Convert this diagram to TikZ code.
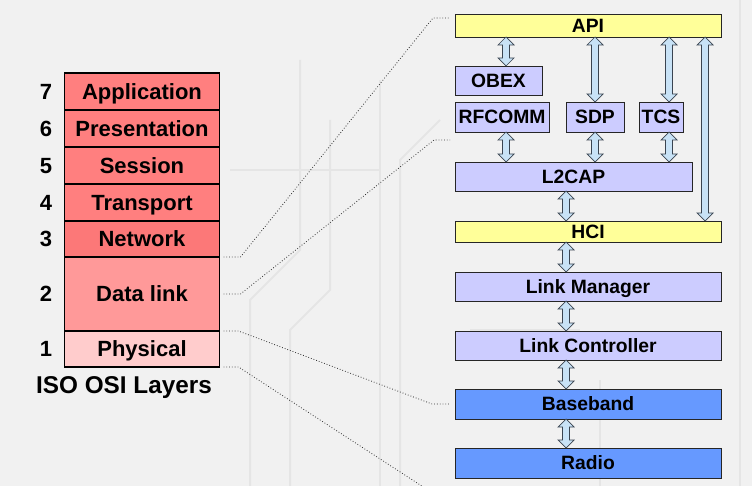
\documentclass[tikz,border=0pt]{standalone}
\usepackage{fontspec}
\setmainfont{Liberation Sans}
\usetikzlibrary{calc}
\definecolor{bg}{HTML}{F1F1F1}
\definecolor{bgline}{HTML}{E5E5E5}
\definecolor{osired}{HTML}{FF7F7F}
\definecolor{osinet}{HTML}{FC7878}
\definecolor{osidl}{HTML}{FF9999}
\definecolor{osiph}{HTML}{FFCCCC}
\definecolor{yel}{HTML}{FFFF99}
\definecolor{lav}{HTML}{CCCCFF}
\definecolor{blu}{HTML}{6699FF}
\definecolor{arrfill}{HTML}{C8E2F6}
\definecolor{arrline}{HTML}{3A4450}
\tikzset{
  osibox/.style={draw=black, line width=1.2pt, inner sep=0pt, outer sep=0pt,
    anchor=north west, minimum width=155pt, text height=15.5pt, text depth=0pt,
    font=\fontsize{22}{26}\selectfont\bfseries},
  osinum/.style={inner sep=0pt, text height=15.5pt, text depth=0pt,
    font=\fontsize{22}{26}\selectfont\bfseries},
  rbox/.style={draw=black!85, line width=0.8pt, inner sep=0pt, outer sep=0pt,
    anchor=north west, text height=13.8pt, text depth=0pt,
    font=\fontsize{19.3}{23}\selectfont\bfseries},
  dotline/.style={draw=black!80, line width=0.8pt, dotted},
  blockarrow/.style={fill=arrfill, draw=arrline, line width=0.7pt, line join=miter},
}
% double block arrow from bottom of #1 to top of #2 at x = #3
\newcommand{\dblarr}[3]{%
  \path[blockarrow] let \p1=(#1.south), \p2=(#2.north), \p3=(#3,0) in
    (\x3,\y1) -- (\x3+8pt,\y1-8pt) -- (\x3+3.5pt,\y1-8pt) -- (\x3+3.5pt,\y2+8pt)
    -- (\x3+8pt,\y2+8pt) -- (\x3,\y2) -- (\x3-8pt,\y2+8pt) -- (\x3-3.5pt,\y2+8pt)
    -- (\x3-3.5pt,\y1-8pt) -- (\x3-8pt,\y1-8pt) -- cycle;}
\begin{document}
\begin{tikzpicture}[x=1pt,y=-1pt]
\useasboundingbox (0,0) rectangle (752,486);
\fill[bg] (0,0) rectangle (752,486);
% faint background circuit texture
\begin{scope}[bgline, line width=2pt]
\draw (250,486) -- (250,300) -- (300,250) -- (300,60);
\draw (290,486) -- (290,330) -- (330,290) -- (330,120);
\draw (400,486) -- (400,160) -- (440,120);
\draw (470,330) -- (580,330);
\draw (600,486) -- (600,380);
\draw (740,0) -- (740,486);
\draw (230,170) -- (380,170);
\draw (380,80) -- (380,486);
\end{scope}
% OSI stack
\node[osibox, fill=osired, minimum height=37pt] (app)  at (64.5,73)  {Application};
\node[osibox, fill=osired, minimum height=37pt] (pres) at (64.5,110) {Presentation};
\node[osibox, fill=osired, minimum height=37pt] (sess) at (64.5,147) {Session};
\node[osibox, fill=osired, minimum height=37pt] (trans) at (64.5,184) {Transport};
\node[osibox, fill=osinet, minimum height=36pt] (net)  at (64.5,221) {Network};
\node[osibox, fill=osidl,  minimum height=74pt] (dl)   at (64.5,257) {Data link};
\node[osibox, fill=osiph,  minimum height=36pt] (phys) at (64.5,331) {Physical};
\node[osinum] (n7) at (46,91.5) {7};
\node[osinum] (n6) at (46,128.5) {6};
\node[osinum] (n5) at (46,165.5) {5};
\node[osinum] (n4) at (46,202.5) {4};
\node[osinum] (n3) at (46,239) {3};
\node[osinum] (n2) at (46,294) {2};
\node[osinum] (n1) at (46,349) {1};
\node[inner sep=0pt, text height=17pt, text depth=0pt, font=\fontsize{24.3}{28}\selectfont\bfseries] (title) at (124,385) {ISO OSI Layers};
% Bluetooth stack
\node[rbox, fill=yel, minimum width=266pt, minimum height=23pt] (api) at (455,14) {API};
\node[rbox, fill=lav, minimum width=87pt, minimum height=29pt] (obex) at (455,66) {OBEX};
\node[rbox, fill=lav, minimum width=94pt, minimum height=30pt] (rfcomm) at (455,102) {RFCOMM};
\node[rbox, fill=lav, minimum width=58pt, minimum height=30pt] (sdp) at (566,102) {SDP};
\node[rbox, fill=lav, minimum width=44pt, minimum height=30pt] (tcs) at (639,102) {TCS};
\node[rbox, fill=lav, minimum width=237pt, minimum height=29pt] (l2cap) at (455,162) {L2CAP};
\node[rbox, fill=yel, minimum width=266pt, minimum height=21pt] (hci) at (455,221) {HCI};
\node[rbox, fill=lav, minimum width=266pt, minimum height=29pt] (lm) at (455,272) {Link Manager};
\node[rbox, fill=lav, minimum width=266pt, minimum height=29pt] (lc) at (455,331) {Link Controller};
\node[rbox, fill=blu, minimum width=266pt, minimum height=30pt] (bb) at (455,389) {Baseband};
\node[rbox, fill=blu, minimum width=266pt, minimum height=30pt] (radio) at (455,448) {Radio};
% arrows
\dblarr{api}{obex}{506}
\dblarr{api}{sdp}{595}
\dblarr{api}{tcs}{669}
\dblarr{api}{hci}{705}
\dblarr{rfcomm}{l2cap}{506}
\dblarr{sdp}{l2cap}{595}
\dblarr{tcs}{l2cap}{669}
\dblarr{l2cap}{hci}{566}
\dblarr{hci}{lm}{566}
\dblarr{lm}{lc}{566}
\dblarr{lc}{bb}{566}
\dblarr{bb}{radio}{566}
% dotted mapping lines
\coordinate (offbottom) at (431,492);
\draw[dotline] ([xshift=4pt]dl.north east) -- ++(17,0) -- ([xshift=-22pt,yshift=-4pt]api.north west) -- ([xshift=-5pt,yshift=-4pt]api.north west);
\draw[dotline] ([xshift=4pt]dl.east) -- ++(17,0) -- ([xshift=-21pt,yshift=22pt]l2cap.north west) -- ([xshift=-5pt,yshift=22pt]l2cap.north west);
\draw[dotline] ([xshift=4pt]phys.north east) -- ++(15,0) -- ([xshift=-23pt]bb.west) -- ([xshift=-6pt]bb.west);
\draw[dotline] ([xshift=4pt]phys.south east) -- ++(15,0) -- (offbottom);
\end{tikzpicture}
\end{document}
